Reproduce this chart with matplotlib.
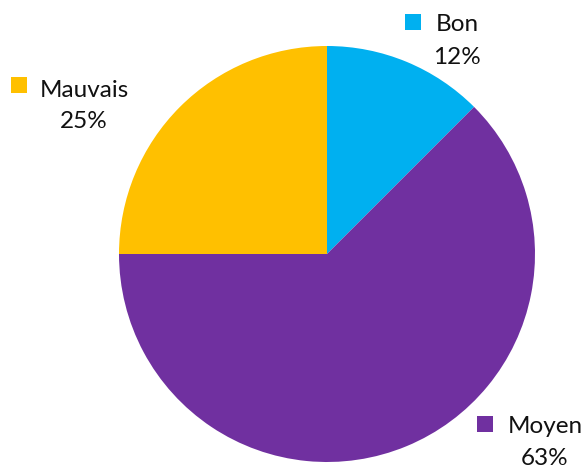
import matplotlib
matplotlib.use("Agg")
import matplotlib.pyplot as plt

categories = ["Bon", "Moyen", "Mauvais"]
values = [12.5, 62.5, 25.0]
pct_labels = ["12%", "63%", "25%"]
colors = ["#00B0F0", "#7030A0", "#FFC000"]

W, H = 588, 472
fig = plt.figure(figsize=(W / 100, H / 100), dpi=100)
ax = fig.add_axes([0, 0, 1, 1])
ax.pie(values, colors=colors, startangle=90, counterclock=False,
       center=(327, H - 254), radius=208,
       wedgeprops=dict(linewidth=0))
ax.set_xlim(0, W)
ax.set_ylim(0, H)
ax.set_aspect("equal")
ax.axis("off")

# label layout: (square center x, y), (text center x, name baseline y, pct baseline y)
label_pos = {
    "Bon": ((413, 22), (457, 31, 64)),
    "Moyen": ((485, 424), (545, 433, 465)),
    "Mauvais": ((19, 85), (84, 97, 128)),
}
font = dict(family=["Lato", "DejaVu Sans"], size=17.5, color="#111111")
for cat, pct, col in zip(categories, pct_labels, colors):
    (sx, sy), (tx, y1, y2) = label_pos[cat]
    ax.scatter([sx], [H - sy], marker="s", s=120, color=col, linewidths=0)
    ax.text(tx, H - y1, cat, ha="center", va="baseline", **font)
    ax.text(tx, H - y2, pct, ha="center", va="baseline", **font)

fig.savefig("out.png", dpi=100)
